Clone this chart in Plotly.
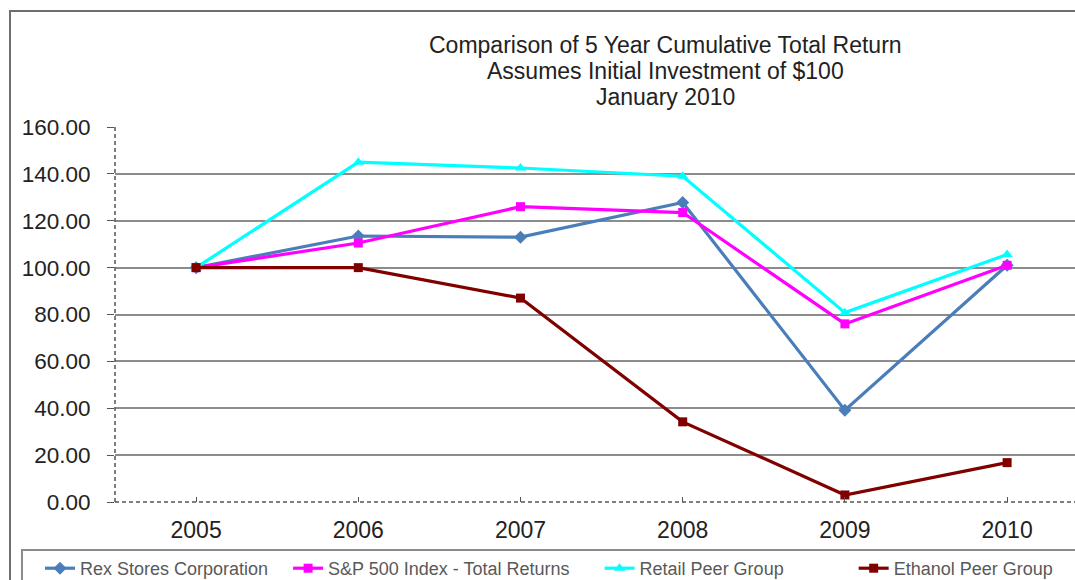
import plotly.graph_objects as go

years = ["2005", "2006", "2007", "2008", "2009", "2010"]
rex = [100.0, 113.5, 113.0, 127.8, 39.2, 101.0]
sp500 = [100.0, 110.5, 126.0, 123.5, 76.0, 101.0]
retail = [100.0, 145.0, 142.5, 139.0, 80.8, 105.6]
ethanol = [100.0, 100.0, 87.0, 34.2, 3.0, 16.8]

NB = "\u00a0"
series = [
    ("Rex Stores Corporation", rex, "#4A7EBB", "diamond", 10, 3),
    ("S&P 500 Index - Total Returns", sp500, "#FF00FF", "square", 9, 5),
    ("Retail Peer Group", retail, "#00FFFF", "triangle-up", 10, 13),
    ("Ethanol Peer Group", ethanol, "#800000", "square", 9, 0),
]

fig = go.Figure()
for name, vals, color, sym, size, pad in series:
    fig.add_trace(go.Scatter(
        x=list(range(len(years))), y=vals, name=name + NB * pad,
        mode="lines+markers",
        line=dict(color=color, width=3.2),
        marker=dict(symbol=sym, size=size, color=color),
        hovertemplate=name + ": %{y:.2f}<extra></extra>",
    ))

# plot area: x 115..1075 px, y 127..502 px
L, R, T, B = 115, 1075, 127, 502
W, H = R - L, B - T


def px(x):
    return (x - L) / W


def py(y):
    return (B - y) / H


titles = ["Comparison of 5 Year Cumulative Total Return",
          "Assumes Initial Investment of $100",
          "January 2010"]
title_y = [45, 71, 97]
annotations = []
for t, yy in zip(titles, title_y):
    annotations.append(dict(
        text=t, xref="paper", yref="paper", x=px(665), y=py(yy),
        xanchor="center", yanchor="middle", showarrow=False,
        font=dict(family="Arial", size=23, color="#222222"),
    ))

axis_col = "#555555"
shapes = [
    # outer chart border
    dict(type="rect", xref="paper", yref="paper",
         x0=px(10), x1=px(1095), y0=py(600), y1=py(11),
         line=dict(color="#6E6E6E", width=2), fillcolor="rgba(0,0,0,0)",
         layer="below"),
    # legend border
    dict(type="rect", xref="paper", yref="paper",
         x0=px(22), x1=px(1095), y0=py(600), y1=py(550),
         line=dict(color="#8C8C8C", width=2), fillcolor="rgba(0,0,0,0)",
         layer="above"),
    # dashed axis lines
    dict(type="line", xref="paper", yref="paper", x0=0, x1=1, y0=0, y1=0,
         line=dict(color=axis_col, width=1.5, dash="4px,3px"), layer="above"),
    dict(type="line", xref="paper", yref="paper", x0=0, x1=0, y0=0, y1=1,
         line=dict(color=axis_col, width=1.5, dash="4px,3px"), layer="above"),
]

fig.update_layout(
    width=1075, height=580,
    margin=dict(l=L, r=1075 - R, t=T, b=580 - B, autoexpand=False),
    paper_bgcolor="white", plot_bgcolor="white",
    showlegend=True,
    legend=dict(
        orientation="h", x=px(40), y=py(550), xanchor="left", yanchor="top",
        borderwidth=0, bgcolor="rgba(0,0,0,0)",
        font=dict(family="Arial", size=18, color="#595959"),
        itemwidth=30,
    ),
    annotations=annotations,
    shapes=shapes,
    xaxis=dict(
        tickmode="array", tickvals=list(range(len(years))), ticktext=years,
        range=[-0.5, -0.5 + W / 162.2],
        showgrid=False, zeroline=False, showline=False,
        ticks="inside", ticklen=5, tickcolor=axis_col,
        ticklabelstandoff=12,
        tickfont=dict(family="Arial", size=23, color="#222222"),
        fixedrange=True,
    ),
    yaxis=dict(
        range=[0, 160], tickvals=[0, 20, 40, 60, 80, 100, 120, 140, 160],
        tickformat=".2f",
        showgrid=True, gridcolor="#8C8C8C", gridwidth=2,
        zeroline=False, showline=False,
        ticks="outside", ticklen=7, tickcolor=axis_col,
        ticklabelstandoff=12,
        tickfont=dict(family="Arial", size=22.5, color="#222222"),
        fixedrange=True,
    ),
)

fig.write_html("out.html")
